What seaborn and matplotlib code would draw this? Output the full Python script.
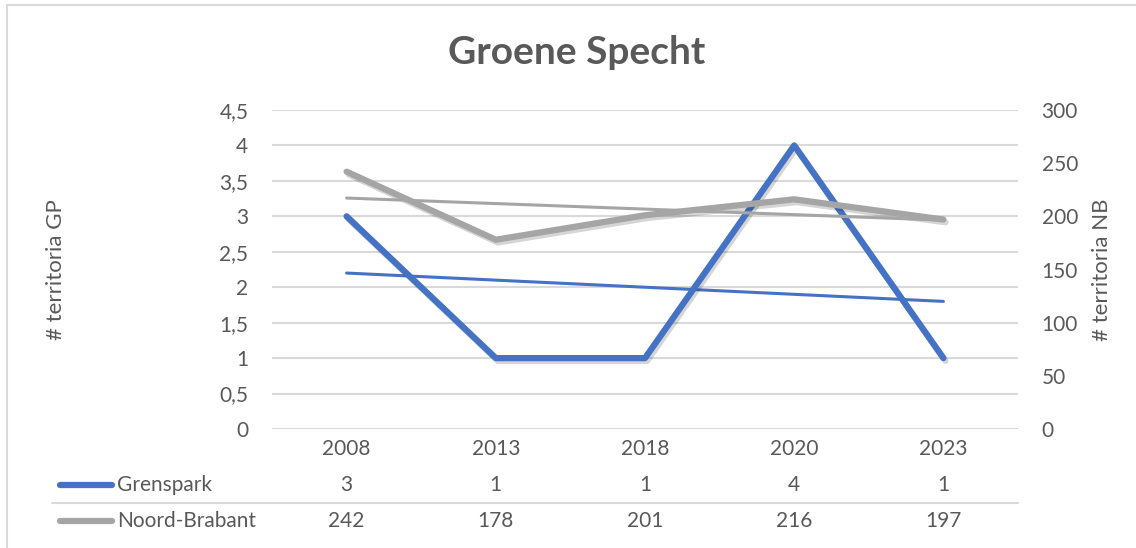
import numpy as np
import pandas as pd
import matplotlib
matplotlib.use("Agg")
import matplotlib.pyplot as plt
import matplotlib.patheffects as pe
from matplotlib.patches import Rectangle
from matplotlib.lines import Line2D
import seaborn as sns

# data
years = ['2008', '2013', '2018', '2020', '2023']
grenspark = [3, 1, 1, 4, 1]
noord_brabant = [242, 178, 201, 216, 197]
left_ticks = [0, 0.5, 1, 1.5, 2, 2.5, 3, 3.5, 4, 4.5]
left_tick_labels = ['0', '0,5', '1', '1,5', '2', '2,5', '3', '3,5', '4', '4,5']
right_ticks = [0, 50, 100, 150, 200, 250, 300]

BLUE = '#4472C4'
GRAY = '#A5A5A5'
TEXT = '#595959'
GRID = '#D9D9D9'
FS = 15

sns.set_theme(style='white')
plt.rcParams['font.family'] = ['Lato', 'DejaVu Sans']

df = pd.DataFrame({'pos': np.arange(len(years)), 'year': years,
                   'GP': grenspark, 'NB': noord_brabant})

fig = plt.figure(figsize=(11.36, 5.48), dpi=100)
W, H = 1136, 548

# chart border
fig.patches.append(Rectangle((7 / W, -0.1), 1.2, 1 - 5 / H + 0.1, transform=fig.transFigure,
                             fill=False, edgecolor=GRID, lw=1.5))

ax = fig.add_axes([272 / W, 1 - 429 / H, (1018 - 272) / W, (429 - 110) / H])
ax2 = ax.twinx()

shadow = [pe.SimpleLineShadow(offset=(1.5, -2), alpha=0.18, shadow_color='k'), pe.Normal()]

# main series
sns.lineplot(data=df, x='pos', y='GP', ax=ax, color=BLUE, lw=4.5,
             path_effects=shadow, zorder=3)
sns.regplot(data=df, x='pos', y='GP', ax=ax, scatter=False, ci=None, truncate=True,
            line_kws=dict(color=BLUE, lw=2.2, zorder=2))

sns.lineplot(data=df, x='pos', y='NB', ax=ax2, color=GRAY, lw=4.5,
             path_effects=shadow, zorder=3)
sns.regplot(data=df, x='pos', y='NB', ax=ax2, scatter=False, ci=None, truncate=True,
            line_kws=dict(color=GRAY, lw=2.2, zorder=4))

ax.set_xlim(-0.5, len(years) - 0.5)
ax.set_ylim(0, 4.5)
ax2.set_ylim(0, 300)

ax.set_yticks(left_ticks)
ax.set_yticklabels(left_tick_labels)
ax2.set_yticks(right_ticks)
ax.set_xticks(df['pos'])
ax.set_xticklabels(years)

ax.grid(axis='y', color=GRID, lw=1.5)
ax.set_axisbelow(True)
for a in (ax, ax2):
    for s in a.spines.values():
        s.set_visible(False)
    a.tick_params(length=0, labelsize=FS, labelcolor=TEXT)
ax.tick_params(axis='y', pad=17)
ax.tick_params(axis='x', pad=7)
ax2.tick_params(axis='y', pad=17)

ax.set_xlabel('')
ax.set_ylabel('# territoria GP', fontsize=16, color=TEXT, va='center')
ax.yaxis.set_label_coords((56 - 272) / 746, 0.5)
ax2.set_ylabel('# territoria NB', fontsize=16, color=TEXT, va='center')
ax2.yaxis.set_label_coords((1102 - 272) / 746, 0.5)

fig.text(577 / W, 1 - 52 / H, 'Groene Specht', ha='center', va='center',
         fontsize=28, fontweight='bold', color=TEXT)

# data table below the axis
tr = ax.get_xaxis_transform()
rows = [('Grenspark', grenspark, BLUE, -(485 - 429) / 319),
        ('Noord-Brabant', noord_brabant, GRAY, -(521 - 429) / 319)]
key_x0 = (60 - 272) / 746
key_x1 = (112 - 272) / 746
for name, vals, col, yy in rows:
    ax.add_line(Line2D([key_x0, key_x1], [yy, yy], transform=ax.transAxes, color=col,
                       lw=4.5, solid_capstyle='round', clip_on=False))
    ax.text((117 - 272) / 746, yy, name, transform=ax.transAxes, ha='left', va='center',
            fontsize=FS, color=TEXT, clip_on=False)
    for p, v in zip(df['pos'], vals):
        ax.text(p, yy, str(v), transform=tr, ha='center', va='center',
                fontsize=FS, color=TEXT, clip_on=False)

sep_y = -(503 - 429) / 319
ax.add_line(Line2D([(52 - 272) / 746, 1.0], [sep_y, sep_y], transform=ax.transAxes,
                   color=GRID, lw=1.5, clip_on=False))

fig.savefig('out.png', dpi=100)
